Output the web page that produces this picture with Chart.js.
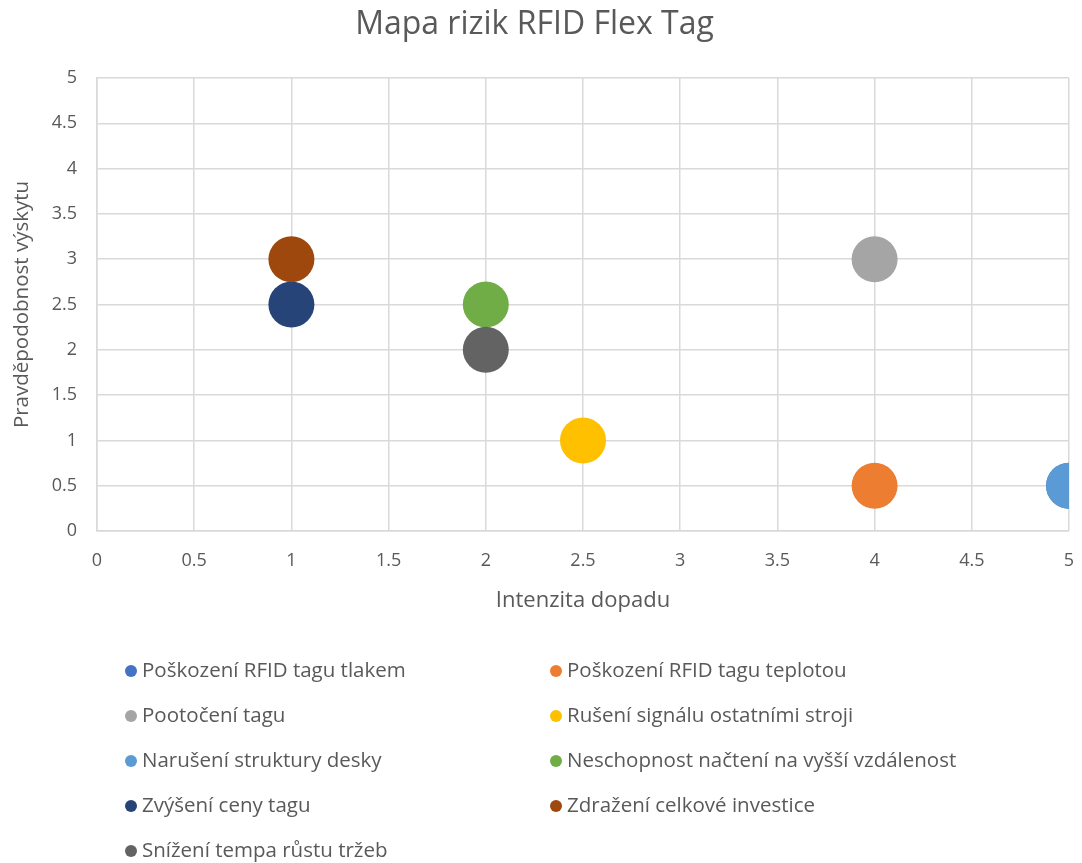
<!DOCTYPE html>
<html lang="cs">
<head>
<meta charset="utf-8">
<title>Mapa rizik RFID Flex Tag</title>
<script src="https://cdn.jsdelivr.net/npm/chart.js@4"></script>
<style>
  html, body { margin: 0; padding: 0; background: #ffffff; }
  #wrap { width: 1082px; height: 863px; }
</style>
</head>
<body>
<div id="wrap"><canvas id="riskMap" width="1082" height="863"></canvas></div>
<script>
// Risk names, impact (x) and probability (y) for each risk
const riskNames = [
  'Poškození RFID tagu tlakem',
  'Poškození RFID tagu teplotou',
  'Pootočení tagu',
  'Rušení signálu ostatními stroji',
  'Narušení struktury desky',
  'Neschopnost načtení na vyšší vzdálenost',
  'Zvýšení ceny tagu',
  'Zdražení celkové investice',
  'Snížení tempa růstu tržeb'
];
const impactValues = [5, 4, 4, 2.5, 5, 2, 1, 1, 2];
const probabilityValues = [0.5, 0.5, 3, 1, 0.5, 2.5, 2.5, 3, 2];
const riskColors = ['#4472C4', '#ED7D31', '#A5A5A5', '#FFC000', '#5B9BD5', '#70AD47', '#264478', '#9E480E', '#636363'];

const chartTitle = 'Mapa rizik RFID Flex Tag';
const xAxisTitle = 'Intenzita dopadu';
const yAxisTitle = 'Pravděpodobnost výskytu';

const FONT = "'Open Sans', 'DejaVu Sans', sans-serif";
const TEXT = '#595959';
const GRID = '#d9d9d9';

Chart.defaults.font.family = FONT;
Chart.defaults.color = TEXT;

// Later risks are painted over earlier ones
const datasets = riskNames.map((name, i) => ({
  label: name,
  data: [{ x: impactValues[i], y: probabilityValues[i] }],
  backgroundColor: riskColors[i],
  borderColor: riskColors[i],
  borderWidth: 0,
  pointRadius: 23,
  pointHoverRadius: 23,
  order: riskNames.length - i,
  clip: 0
}));

// Two-column legend under the plot
const twoColumnLegend = {
  id: 'twoColumnLegend',
  afterDraw(chart) {
    const ctx = chart.ctx;
    const colX = [131, 556];
    const rowY0 = 671, rowGap = 45;
    ctx.save();
    ctx.font = "20.5px " + FONT;
    ctx.textBaseline = 'middle';
    ctx.textAlign = 'left';
    chart.data.datasets.forEach((ds, i) => {
      const x = colX[i % 2];
      const y = rowY0 + Math.floor(i / 2) * rowGap;
      ctx.beginPath();
      ctx.arc(x, y, 6, 0, Math.PI * 2);
      ctx.fillStyle = ds.backgroundColor;
      ctx.fill();
      ctx.fillStyle = TEXT;
      ctx.fillText(ds.label, x + 11, y);
    });
    ctx.restore();
  }
};

const plainNumber = v => String(v);

new Chart(document.getElementById('riskMap'), {
  type: 'scatter',
  data: { datasets },
  plugins: [twoColumnLegend],
  options: {
    responsive: false,
    animation: false,
    layout: { autoPadding: false, padding: { left: 0, right: 13, top: 0, bottom: 245 } },
    plugins: {
      legend: { display: false },
      tooltip: { enabled: false },
      title: {
        display: true,
        text: chartTitle,
        color: TEXT,
        font: { size: 32, weight: 'normal', family: FONT },
        padding: { top: 6, bottom: 33.6 }
      }
    },
    scales: {
      x: {
        type: 'linear',
        min: 0, max: 5,
        afterFit(scale) {
          scale.height = 87;
          scale.paddingLeft = 0;
          scale.paddingRight = 0;
        },
        ticks: { stepSize: 0.5, padding: 19, color: TEXT, font: { size: 18 }, callback: plainNumber },
        grid: { color: GRID, lineWidth: 1.5, drawTicks: false },
        border: { color: GRID, width: 1.5 },
        title: { display: true, text: xAxisTitle, color: TEXT, font: { size: 22 }, padding: { top: 4, bottom: 4 } }
      },
      y: {
        type: 'linear',
        min: 0, max: 5,
        afterFit(scale) { scale.width = 97; },
        ticks: { stepSize: 0.5, padding: 20, color: TEXT, font: { size: 18 }, callback: plainNumber },
        grid: { color: GRID, lineWidth: 1.5, drawTicks: false },
        border: { color: GRID, width: 1.5 },
        title: { display: true, text: yAxisTitle, color: TEXT, font: { size: 20.5 }, padding: { top: 10, bottom: 4 } }
      }
    }
  }
});
</script>
</body>
</html>
